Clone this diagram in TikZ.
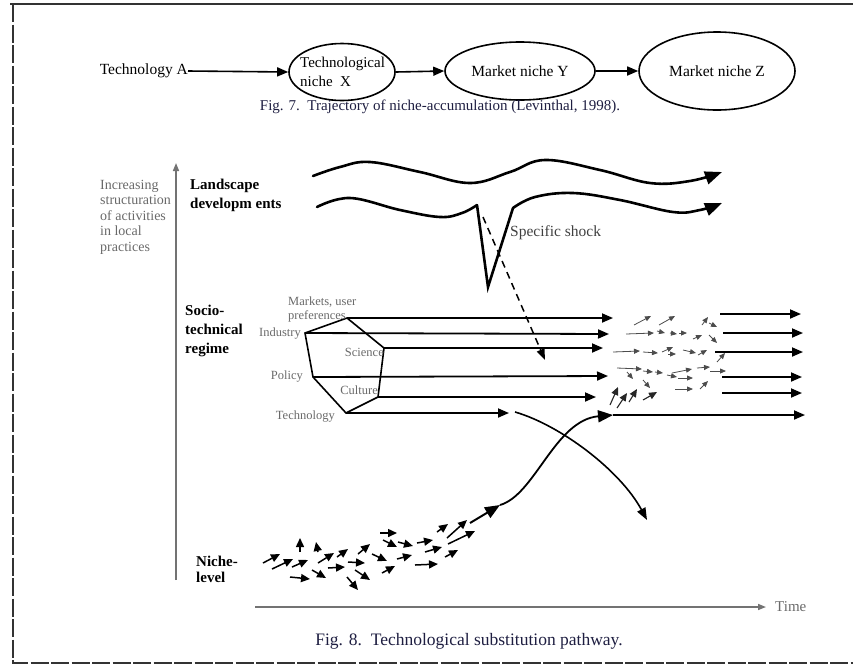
\documentclass[tikz,border=0pt]{standalone}
\usepackage{fontspec}
\setmainfont{Liberation Serif}
\usetikzlibrary{arrows.meta,shapes.geometric}
\definecolor{capc}{RGB}{30,30,65}
\definecolor{lgray}{RGB}{105,105,105}
\begin{document}
\begin{tikzpicture}[x=1pt,y=-1pt,
  fr/.style={line width=2pt,black!80},
  fa/.style={line width=1.6pt,-{Triangle[length=11pt,width=9pt]}},
  oval/.style={ellipse,draw,line width=1.6pt,inner sep=0pt},
  wv/.style={line width=2.6pt,line cap=round},
  wva/.style={wv,-{Triangle[length=17pt,width=13pt]}},
  rg/.style={line width=1.8pt,-{Triangle[length=11pt,width=9pt]}},
  sm/.style={line width=0.8pt,black!70,-{Triangle[length=6pt,width=5pt]}},
  smb/.style={line width=1.1pt,black!85,-{Triangle[length=8pt,width=7pt]}},
  nc/.style={line width=1.5pt,-{Triangle[length=9pt,width=8pt]}},
  bigtxt/.style={font=\fontsize{15.5}{18}\selectfont,inner sep=0pt},
  lvl/.style={font=\bfseries\fontsize{15}{19}\selectfont,align=left,inner sep=0pt,anchor=north west},
  hex/.style={font=\fontsize{12.5}{14}\selectfont,text=lgray,inner sep=0pt},
  figcap/.style={font=\fontsize{15}{18}\selectfont,text=capc,inner sep=0pt}
]
\useasboundingbox (0,0) rectangle (853,665);
% frame
\draw[fr] (10,4) -- (853,4);
\draw[fr,dash pattern=on 18pt off 2.5pt] (13,4) -- (13,663) -- (853,663);

% ---------- Fig. 7 ----------
\node[bigtxt,anchor=east] (techA) at (188,71) {Technology A};
\node[oval,minimum width=106pt,minimum height=57pt] (X) at (342,72) {};
\node[bigtxt,align=left,anchor=west,font=\fontsize{15}{19}\selectfont] (Xt) at (300,72) {Technological\\niche\ \ X};
\node[oval,minimum width=150pt,minimum height=58pt] (Y) at (520,71) {};
\node[bigtxt] (Yt) at (Y.center) {Market niche Y};
\node[oval,minimum width=156pt,minimum height=78pt] (Z) at (717,71) {};
\node[bigtxt] (Zt) at (Z.center) {Market niche Z};
\draw[fa] (techA.east) -- (X.west);
\draw[fa] (X.east) -- (Y.west);
\draw[fa] (Y.east) -- (Z.west);
\node[figcap] (cap7) at (440,107) {Fig. 7.\ \ Trajectory of niche-accumulation (Levinthal, 1998).};

% ---------- Fig. 8 ----------
\coordinate (ax0) at (176,580);
\coordinate (ax1) at (176,163);
\draw[line width=1.5pt,black!55,-{Triangle[length=8pt,width=6pt]}] (ax0) -- (ax1);
\node[font=\fontsize{14}{15.5}\selectfont,text=lgray,align=left,inner sep=0pt,anchor=north west] (incr) at (100,180)
  {Increasing\\structuration\\of activities\\in local\\practices};
\coordinate (tx0) at (255,607);
\coordinate (tx1) at (766,607);
\draw[line width=1.5pt,black!55,-{Triangle[length=8pt,width=6pt]}] (tx0) -- (tx1);
\node[font=\fontsize{15}{17}\selectfont,text=lgray,inner sep=0pt,anchor=west] (time) at (775,607) {Time};

\node[lvl] (land) at (190,179) {Landscape\\developm ents};
\node[lvl] (regime) at (185,305) {Socio-\\technical\\regime};
\node[lvl,font=\bfseries\fontsize{15}{15.5}\selectfont] (niche) at (196,556) {Niche-\\level};

% landscape waves
\draw[wva] plot[smooth,tension=0.65] coordinates {(313,176) (340,167) (370,162) (420,172) (470,183) (510,172) (545,160) (600,170) (650,183) (690,181) (722,172)};
\draw[wv] plot[smooth,tension=0.65] coordinates {(317,207) (350,198) (400,210) (440,217) (462,213) (477,205)};
\draw[line width=2.6pt,line join=miter] (477,205) -- (488,287) -- (513,208);
\draw[wva] plot[smooth,tension=0.65] coordinates {(513,208) (535,197) (573,193) (620,200) (673,212) (700,210) (722,203)};
\node[font=\fontsize{15.5}{18}\selectfont,text=black!75,inner sep=0pt,anchor=west] (shock) at (510,233) {Specific shock};
\coordinate (sh0) at (483,217);
\coordinate (sh1) at (545,360);
\draw[line width=1.5pt,dash pattern=on 7pt off 5pt,-{Triangle[length=11pt,width=8pt]}] (sh0) -- (sh1);

% hexagon
\coordinate (hT) at (347,318);
\coordinate (hS) at (384,348);
\coordinate (hC) at (378,397);
\coordinate (hB) at (346,413);
\coordinate (hP) at (313,377);
\coordinate (hI) at (305,333);
\draw[line width=1.6pt,line join=miter] (hT) -- (hS) -- (hC) -- (hB) -- (hP) -- (hI) -- cycle;
\node[hex,align=left,anchor=north west] (lmk) at (288,297) {Markets, user\\preferences};
\node[hex,anchor=east] (lind) at (301,334) {Industry};
\node[hex,anchor=east] (lsci) at (384,352) {Science};
\node[hex,anchor=east] (lpol) at (303,377) {Policy};
\node[hex,anchor=east] (lcul) at (378,390) {Culture};
\node[hex,anchor=east] (ltec) at (335,417) {Technology};

\coordinate (eT) at (613,318);
\coordinate (eI) at (609,334);
\coordinate (eS) at (603,348);
\coordinate (eP) at (608,376);
\coordinate (eC) at (596,397);
\coordinate (eB) at (509,413);
\draw[rg] (hT) -- (eT);
\draw[rg] (hI) -- (eI);
\draw[rg] (hS) -- (eS);
\draw[rg] (hP) -- (eP);
\draw[rg] (hC) -- (eC);
\draw[rg] (hB) -- (eB);

% outgoing regime arrows
\foreach \ya/\xa/\xb in {314/720/801, 333/723/803, 352/715/803, 377/722/802, 393/722/802}
  \draw[rg] (\xa,\ya) -- (\xb,\ya);

% small arrows (regime transition)
\foreach \ax/\ay/\bx/\by in {634/325/651/316, 659/325/675/316, 702/325/708/317, 709/323/717/327,
  626/334/654/333, 657/331/665/333, 670/333/677/334, 679/333/687/333, 693/339/702/335, 709/335/717/343,
  613/352/640/351, 643/352/658/353, 662/352/673/347, 668/354/676/354, 683/350/696/353, 698/355/707/350, 717/362/725/353,
  617/368/642/369, 627/372/633/379, 643/371/653/372, 655/372/663/373, 667/375/677/377, 672/373/692/369, 678/378/693/378,
  697/368/710/367, 710/371/726/371, 643/380/650/388, 675/389/693/389, 700/389/708/381}
  \draw[sm] (\ax,\ay) -- (\bx,\by);
\foreach \ax/\ay/\bx/\by in {610/405/618/387, 617/408/627/393, 629/402/637/389, 643/400/657/392}
  \draw[smb] (\ax,\ay) -- (\bx,\by);

% niche arrows
\foreach \ax/\ay/\bx/\by in {263/563/280/554, 272/569/293/559, 292/567/308/560, 300/552/300/538, 318/552/316/542,
  290/577/310/579, 312/570/326/578, 318/563/334/553, 328/568/345/567, 337/557/348/549, 348/562/365/563,
  347/577/358/590, 355/570/370/580, 358/554/370/544, 372/554/387/561, 380/533/397/533, 383/540/397/547,
  382/573/395/566, 397/559/412/555, 398/542/413/546, 415/565/438/564, 417/543/433/540, 425/552/442/547,
  437/532/448/524, 447/538/467/520, 448/544/475/531, 445/557/458/550}
  \draw[nc] (\ax,\ay) -- (\bx,\by);

% rising and falling trajectories
\coordinate (r0) at (470,523);
\coordinate (r1) at (500,505);
\coordinate (r2) at (613,415);
\coordinate (r3) at (805,415);
\draw[line width=2pt,-{Triangle[length=15pt,width=12pt]}] (r0) -- (r1);
\draw[line width=1.8pt,-{Triangle[length=15pt,width=12pt]}] (r1) .. controls (535,495) and (555,420) .. (r2);
\draw[rg] (r2) -- (r3);
\coordinate (f0) at (515,412);
\coordinate (f1) at (647,520);
\draw[line width=1.6pt,-{Triangle[length=12pt,width=9pt]}] (f0) .. controls (560,425) and (620,470) .. (f1);

\node[figcap,font=\fontsize{17.5}{20}\selectfont] (cap8) at (469,641) {Fig. 8.\ \ Technological substitution pathway.};
\end{tikzpicture}
\end{document}
